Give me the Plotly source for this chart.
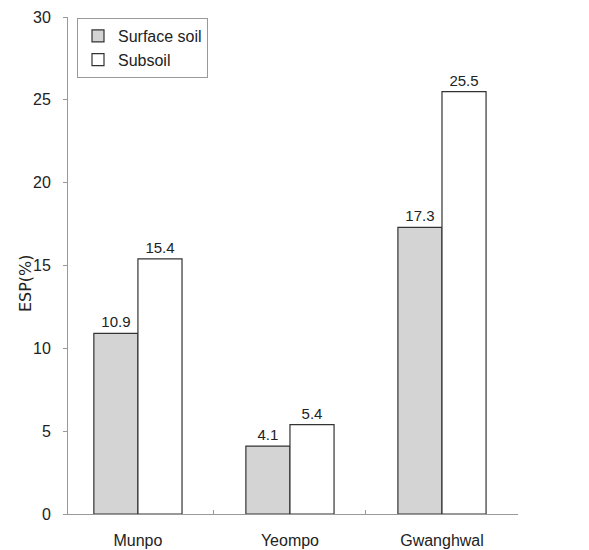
import plotly.graph_objects as go

sites = ["Munpo", "Yeompo", "Gwanghwal"]
surface_soil = [10.9, 4.1, 17.3]
subsoil = [15.4, 5.4, 25.5]
y_ticks = [0, 5, 10, 15, 20, 25, 30]

font_family = "Arial, Liberation Sans, sans-serif"

fig = go.Figure()
fig.add_trace(go.Bar(
    x=sites, y=surface_soil, name="Surface soil",
    marker=dict(color="#d4d4d4", line=dict(color="#333333", width=1.2)),
    text=[f"{v:.1f}" for v in surface_soil], textposition="outside",
    textfont=dict(size=15, color="#222222"), cliponaxis=False,
))
fig.add_trace(go.Bar(
    x=sites, y=subsoil, name="Subsoil",
    marker=dict(color="#ffffff", line=dict(color="#333333", width=1.2)),
    text=[f"{v:.1f}" for v in subsoil], textposition="outside",
    textfont=dict(size=15, color="#222222"), cliponaxis=False,
))

# page body has an 8px default margin, so the figure is sized to fit the window
fig.update_layout(
    width=581, height=542,
    margin=dict(l=60, r=71, t=9, b=36, autoexpand=False),
    paper_bgcolor="white", plot_bgcolor="white",
    font=dict(family=font_family, size=15, color="#222222"),
    barmode="group", bargap=0.42, bargroupgap=0,
    showlegend=True,
    legend=dict(
        x=0.02, y=0.998, xanchor="left", yanchor="top",
        bgcolor="white", bordercolor="#999999", borderwidth=1,
        font=dict(size=16, color="#222222"),
        itemwidth=30, tracegroupgap=0,
    ),
    xaxis=dict(
        automargin=False,
        range=[-0.46, 2.5],
        showline=True, linecolor="#999999", linewidth=1,
        ticks="inside", ticklen=4, tickcolor="#999999", tickson="boundaries",
        ticklabelstandoff=12, tickfont=dict(size=16),
        showgrid=False,
    ),
    yaxis=dict(
        automargin=False,
        range=[0, 30], tickvals=y_ticks,
        showline=True, linecolor="#999999", linewidth=1,
        ticks="outside", ticklen=4, tickcolor="#999999",
        ticklabelstandoff=9, tickfont=dict(size=16),
        showgrid=False, zeroline=False,
    ),
    annotations=[dict(
        text="ESP(%)", textangle=-90, showarrow=False,
        xref="paper", yref="paper", x=-0.093, y=0.465,
        xanchor="center", yanchor="middle",
        font=dict(family="DejaVu Sans, sans-serif", size=16, color="#222222"),
    )],
)

fig.write_html("out.html")
